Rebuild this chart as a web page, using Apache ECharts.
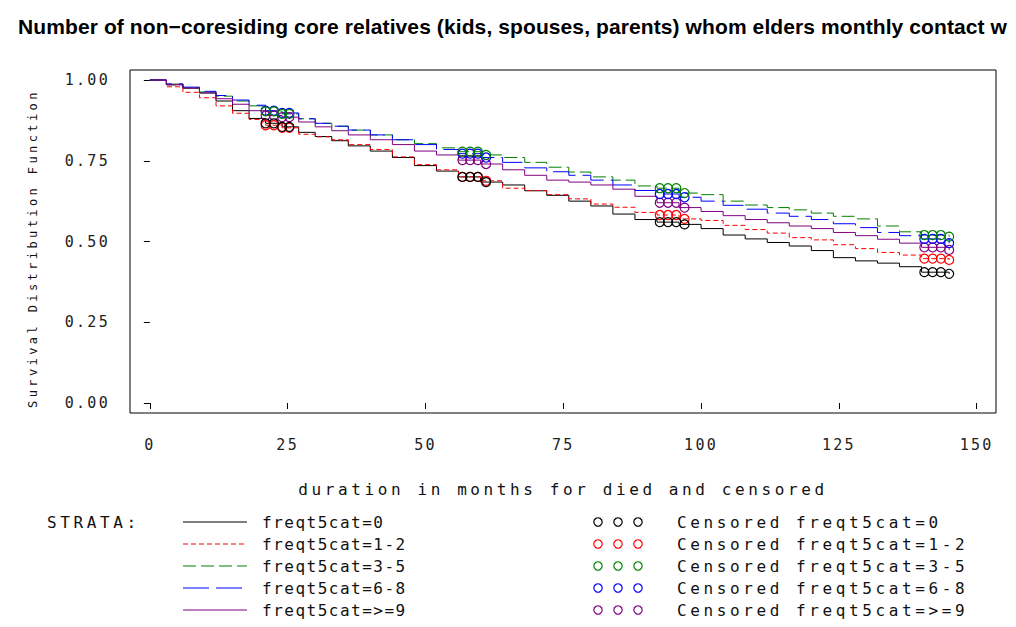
<!DOCTYPE html>
<html>
<head>
<meta charset="utf-8">
<script src="https://cdn.jsdelivr.net/npm/echarts@6/dist/echarts.min.js"></script>
<style>
  html, body { margin: 0; padding: 0; background: #fff; }
  #chart { width: 1016px; height: 627px; }
  #chart svg text[style*="Liberation Sans"] { letter-spacing: 0.1px; }
  #chart svg text[style*="15px"] { letter-spacing: 2.3px; }
  #chart svg text[style*="16px"] { letter-spacing: 3.6px; }
  #chart svg text[style*="16.01px"] { letter-spacing: 1.5px; }
  #chart svg text[style*="12px"] { letter-spacing: 3.4px; }
</style>
</head>
<body>
<div id="chart"></div>
<script>
// ---- data ----
const titleText = 'Number of non\u2212coresiding core relatives (kids, spouses, parents) whom elders monthly contact w';
const xName = 'duration in months for died and censored';
const yName = 'Survival Distribution Function';
const xTicks = [0, 25, 50, 75, 100, 125, 150];
const yTicks = [0, 0.25, 0.5, 0.75, 1.0];

const strata = ['freqt5cat=0', 'freqt5cat=1-2', 'freqt5cat=3-5', 'freqt5cat=6-8', 'freqt5cat=>=9'];
const months = [0,3,6,9,12,15,18,21,24,27,30,33,36,40,44,48,52,56,60,64,68,72,76,80,84,88,92,96,100,104,108,112,116,120,124,128,132,136,140,145];

const surv0  = [1.0,.987,.975,.960,.935,.905,.881,.866,.855,.838,.825,.812,.796,.780,.760,.735,.718,.700,.684,.675,.657,.643,.625,.610,.585,.568,.560,.553,.540,.520,.508,.497,.486,.472,.450,.440,.433,.422,.405,.400];
const surv12 = [1.0,.979,.962,.945,.920,.897,.878,.860,.852,.832,.824,.815,.800,.785,.762,.738,.722,.700,.688,.665,.658,.645,.632,.616,.606,.590,.582,.570,.565,.550,.537,.526,.512,.505,.490,.478,.466,.458,.447,.443];
const surv35 = [1.0,.985,.975,.963,.950,.935,.920,.903,.895,.880,.866,.857,.845,.830,.815,.803,.790,.778,.768,.760,.745,.730,.715,.700,.690,.672,.665,.650,.645,.625,.613,.605,.598,.588,.578,.570,.548,.530,.520,.515];
const surv68 = [1.0,.988,.978,.965,.952,.938,.922,.905,.898,.880,.866,.857,.845,.830,.815,.800,.785,.772,.760,.745,.728,.716,.705,.690,.675,.658,.647,.637,.625,.612,.600,.588,.578,.568,.555,.543,.528,.518,.508,.495];
const surv9  = [1.0,.985,.975,.960,.942,.925,.905,.890,.885,.870,.855,.843,.830,.815,.800,.780,.768,.752,.740,.722,.705,.690,.684,.675,.662,.640,.620,.605,.593,.580,.568,.558,.548,.540,.528,.518,.507,.495,.482,.474];

// censoring times (months) shown as circle clusters
const censoredMonths = [21,22.5,24,25.3, 56.7,58.1,59.5,61, 92.5,94,95.5,97, 140.5,142,143.5,145];

const survAll = [surv0, surv12, surv35, surv68, surv9];
const colors = ['#000000', '#ff0000', '#008000', '#0000ff', '#800080'];
const dashes = ['solid', [5, 3], [13, 5], [26, 7], 'solid'];

function survAt(vals, t) {
  let v = vals[0];
  for (let i = 0; i < months.length; i++) { if (months[i] <= t) v = vals[i]; }
  return v;
}

const series = [];
strata.forEach((name, k) => {
  series.push({
    name: name, type: 'line', step: 'end', showSymbol: false, silent: true,
    data: months.map((m, i) => [m, survAll[k][i]]),
    lineStyle: { color: colors[k], width: 1, type: dashes[k] },
    z: 3
  });
});
strata.forEach((name, k) => {
  series.push({
    name: 'Censored ' + name, type: 'scatter', silent: true,
    symbol: 'circle', symbolSize: 9,
    data: censoredMonths.map(t => [t, survAt(survAll[k], t)]),
    itemStyle: { color: 'rgba(255,255,255,0)', borderColor: colors[k], borderWidth: 1.2, opacity: 1 },
    z: 4 + (4 - k)
  });
});

// legend drawn SAS-style
const mono = '"DejaVu Sans Mono", monospace';
const graphics = [{
  type: 'text', x: 47, y: 522,
  style: { text: 'STRATA:', font: '16px ' + mono, fill: '#111', textVerticalAlign: 'middle' }
}];
strata.forEach((name, k) => {
  const y = 522 + k * 22;
  graphics.push({
    type: 'line', shape: { x1: 183, y1: y, x2: 247, y2: y },
    style: { stroke: colors[k], lineWidth: 1, lineDash: dashes[k] === 'solid' ? null : dashes[k] }
  });
  graphics.push({
    type: 'text', x: 262, y: y,
    style: { text: name, font: '16.01px ' + mono, fill: '#111', textVerticalAlign: 'middle' }
  });
  [598, 618, 638].forEach(cx => {
    graphics.push({
      type: 'circle', shape: { cx: cx, cy: y, r: 4.2 },
      style: { fill: 'none', stroke: colors[k], lineWidth: 1.2 }
    });
  });
  graphics.push({
    type: 'text', x: 677, y: y,
    style: { text: 'Censored ' + name, font: '16px ' + mono, fill: '#111', textVerticalAlign: 'middle' }
  });
});

const chart = echarts.init(document.getElementById('chart'), null, { renderer: 'svg' });
chart.setOption({
  animation: false,
  backgroundColor: '#fff',
  title: {
    text: titleText, left: 13, top: 11,
    textStyle: { fontFamily: 'Liberation Sans', fontWeight: 'bold', fontSize: 21, color: '#000' }
  },
  grid: { left: 130, top: 70, width: 866, height: 343, show: true, borderColor: '#000', borderWidth: 1, backgroundColor: 'transparent' },
  xAxis: {
    type: 'value', min: -3.6, max: 153.5,
    name: xName, nameLocation: 'middle', nameGap: 68,
    nameTextStyle: { fontFamily: 'DejaVu Sans Mono', fontSize: 16, color: '#111' },
    axisLine: { show: false },
    splitLine: { show: false },
    axisTick: { show: true, inside: false, length: 6, customValues: xTicks, lineStyle: { color: '#000' } },
    axisLabel: { customValues: xTicks, margin: 24, fontFamily: 'DejaVu Sans Mono', fontSize: 15, color: '#222', formatter: v => String(v) }
  },
  yAxis: {
    type: 'value', min: -0.031, max: 1.031,
    name: yName, nameLocation: 'middle', nameGap: 91, nameRotate: 90,
    nameTextStyle: { fontFamily: 'DejaVu Sans Mono', fontSize: 12, color: '#111', padding: [0, 14, 0, 0] },
    axisLine: { show: false },
    splitLine: { show: false },
    axisTick: { show: true, inside: false, length: 6, customValues: yTicks, lineStyle: { color: '#000' } },
    axisLabel: { customValues: yTicks, margin: 20, fontFamily: 'DejaVu Sans Mono', fontSize: 15, color: '#222', formatter: v => v.toFixed(2) }
  },
  series: series,
  graphic: graphics
});
</script>
</body>
</html>
